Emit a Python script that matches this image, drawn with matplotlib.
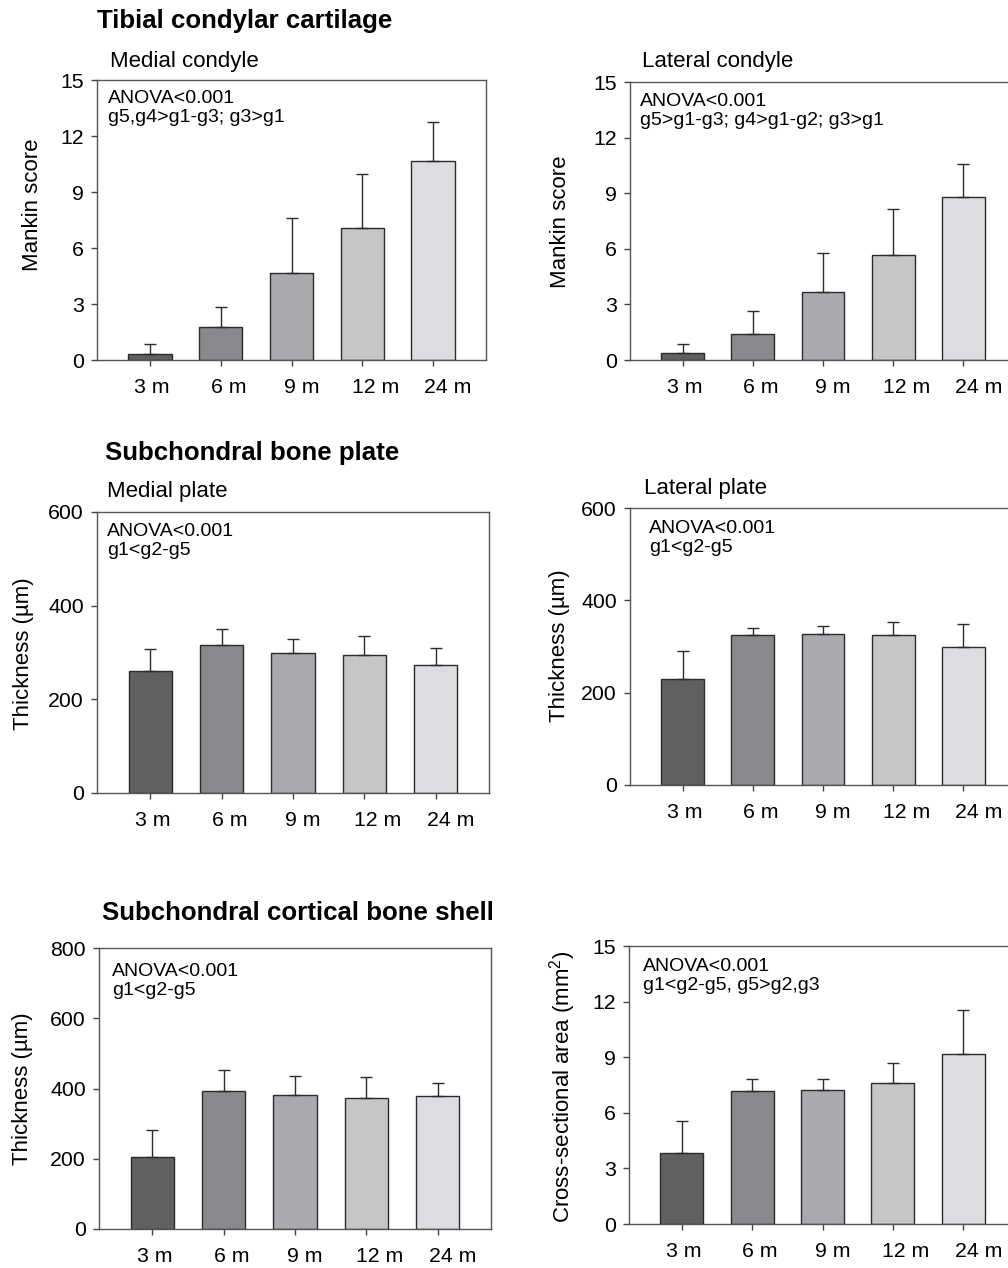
"""Six-panel bar chart of cartilage and subchondral bone measures by age."""

import matplotlib

matplotlib.use("Agg")
from matplotlib import pyplot as plt
from matplotlib.transforms import ScaledTranslation

plt.rcParams["font.family"] = ["Liberation Sans", "DejaVu Sans"]
plt.rcParams["mathtext.fontset"] = "custom"
plt.rcParams["mathtext.rm"] = "Liberation Sans"

# data (mean, upper SD)
months = ["3 m", "6 m", "9 m", "12 m", "24 m"]

medial_condyle_mean = [0.32, 1.79, 4.68, 7.09, 10.66]
medial_condyle_sd = [0.53, 1.03, 2.91, 2.86, 2.07]
lateral_condyle_mean = [0.36, 1.40, 3.69, 5.67, 8.80]
lateral_condyle_sd = [0.49, 1.26, 2.07, 2.48, 1.80]

medial_plate_mean = [261, 317, 299, 295, 274]
medial_plate_sd = [47, 34, 29, 40, 36]
lateral_plate_mean = [229, 324, 326, 324, 299]
lateral_plate_sd = [62, 17, 19, 28, 50]

shell_mean = [206, 394, 381, 374, 379]
shell_sd = [76, 59, 55, 60, 37]
area_mean = [3.81, 7.16, 7.23, 7.59, 9.19]
area_sd = [1.76, 0.68, 0.61, 1.08, 2.34]

bar_colors = ["#606063", "#88898d", "#a9aaad", "#c5c6c8", "#dcdde0"]

W, H = 1008, 1268
DPI = 100

fig = plt.figure(figsize=(W / DPI, H / DPI), dpi=DPI)


def px(x, y):
    """Pixel coords (top-left origin) -> figure fraction."""
    return x / W, 1 - y / H


def add_axes(left, right, top, bottom):
    return fig.add_axes([left / W, 1 - bottom / H, (right - left) / W, (bottom - top) / H])


def bar_panel(ax, mean, sd, ymax, yticks, notes, note_offset):
    x = list(range(len(months)))
    ax.bar(x, mean, width=0.61, color=bar_colors, edgecolor="#2b2b2b", linewidth=1.0, zorder=2)
    ax.errorbar(
        x,
        mean,
        yerr=[[0] * len(sd), sd],
        fmt="none",
        ecolor="#2b2b2b",
        elinewidth=1.0,
        capsize=4,
        capthick=1.0,
        zorder=3,
    )
    ax.set_xlim(-0.75, 4.75)
    ax.set_ylim(0, ymax)
    ax.set_yticks(yticks)
    ax.set_xticks(x)
    ax.set_xticklabels(months)
    ax.tick_params(axis="x", direction="out", length=4, width=1, pad=9, labelsize=15.3, color="#444")
    ax.tick_params(axis="y", direction="out", length=4, width=1, pad=5.5, labelsize=15.3, color="#444")
    for spine in ax.spines.values():
        spine.set_color("#555555")
        spine.set_linewidth(1.0)

    # tick labels sit a little right of their ticks in the original
    for lbl, dx in zip(ax.get_xticklabels(), [2, 8, 10, 13, 15]):
        lbl.set_transform(lbl.get_transform() + ScaledTranslation(dx / DPI, 0, fig.dpi_scale_trans))

    dx, dy = note_offset
    ax.text(
        0,
        1,
        "\n".join(notes),
        transform=ax.transAxes + ScaledTranslation(dx / DPI, -dy / DPI, fig.dpi_scale_trans),
        ha="left",
        va="top",
        fontsize=14,
        linespacing=1.15,
    )


# panels
ax1 = add_axes(97, 486, 80, 360)
bar_panel(ax1, medial_condyle_mean, medial_condyle_sd, 15, [0, 3, 6, 9, 12, 15],
          ["ANOVA<0.001", "g5,g4>g1-g3; g3>g1"], (11, 10))

ax2 = add_axes(630, 1016, 82, 360)
bar_panel(ax2, lateral_condyle_mean, lateral_condyle_sd, 15, [0, 3, 6, 9, 12, 15],
          ["ANOVA<0.001", "g5>g1-g3; g4>g1-g2; g3>g1"], (10, 11))

ax3 = add_axes(97, 489, 512, 793)
bar_panel(ax3, medial_plate_mean, medial_plate_sd, 600, [0, 200, 400, 600],
          ["ANOVA<0.001", "g1<g2-g5"], (10, 11))

ax4 = add_axes(630, 1016, 508, 785)
bar_panel(ax4, lateral_plate_mean, lateral_plate_sd, 600, [0, 200, 400, 600],
          ["ANOVA<0.001", "g1<g2-g5"], (19, 12))

ax5 = add_axes(99, 491, 948, 1229)
bar_panel(ax5, shell_mean, shell_sd, 800, [0, 200, 400, 600, 800],
          ["ANOVA<0.001", "g1<g2-g5"], (13, 15))

ax6 = add_axes(629, 1016, 946, 1224)
bar_panel(ax6, area_mean, area_sd, 15, [0, 3, 6, 9, 12, 15],
          ["ANOVA<0.001", "g1<g2-g5, g5>g2,g3"], (14, 12))

# y labels
ylabels = [
    ("Mankin score", 33, 205),
    ("Mankin score", 561, 222),
    ("Thickness (µm)", 24, 654),
    ("Thickness (µm)", 560, 646),
    ("Thickness (µm)", 23, 1089),
    ("Cross-sectional area (mm$^\\mathregular{2}$)", 563, 1087),
]
for text, x, y in ylabels:
    fig.text(*px(x, y), text, rotation=90, ha="center", va="center", fontsize=16)

# section titles
for text, x, y in [
    ("Tibial condylar cartilage", 97, 21),
    ("Subchondral bone plate", 105, 453),
    ("Subchondral cortical bone shell", 102, 913),
]:
    fig.text(*px(x, y), text, ha="left", va="center", fontsize=18.6, fontweight="bold")

# panel subtitles
for text, x, y in [
    ("Medial condyle", 110, 62),
    ("Lateral condyle", 642, 62),
    ("Medial plate", 107, 491),
    ("Lateral plate", 644, 488),
]:
    fig.text(*px(x, y), text, ha="left", va="center", fontsize=16)

fig.savefig("out.png", dpi=DPI)
